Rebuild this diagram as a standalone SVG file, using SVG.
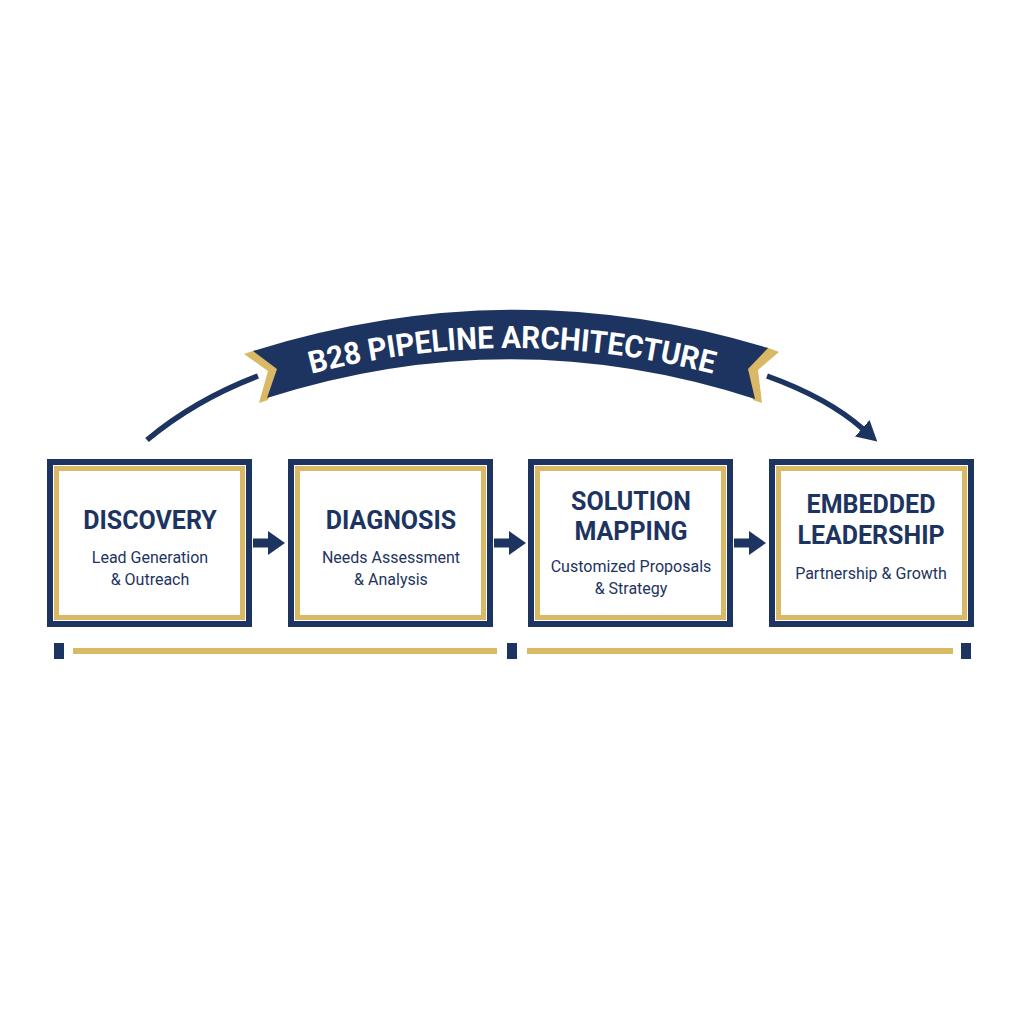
<svg xmlns="http://www.w3.org/2000/svg" width="1024" height="1024" viewBox="0 0 1024 1024">
<style>
.navy{fill:none;stroke:#1d3461;stroke-width:6}
.gold{fill:none;stroke:#d9b866;stroke-width:5}
.t{font-family:Roboto,"Liberation Sans",sans-serif;font-weight:700;font-size:25px;fill:#1d3461;text-anchor:middle}
.s{font-family:Roboto,"Liberation Sans",sans-serif;font-size:16px;fill:#1d3461;text-anchor:middle}
.conn{stroke:#1d3461;stroke-width:9;fill:none}
.arc{stroke:#1d3461;stroke-width:5.5;fill:none}
</style>
<defs>
<marker id="ah" markerUnits="userSpaceOnUse" markerWidth="18" markerHeight="24" refX="0" refY="12" orient="auto">
<path d="M0,0 L17,12 L0,24 Z" fill="#1d3461"/>
</marker>
<marker id="ah2" markerUnits="userSpaceOnUse" markerWidth="22" markerHeight="24" refX="1" refY="12" orient="auto">
<path d="M0,1 L20,12 L0,23 Z" fill="#1d3461"/>
</marker>
<path id="tp" d="M262,388 Q512,308 762,388"/>
</defs>
<rect width="1024" height="1024" fill="#ffffff"/>

<g id="banner">
<polygon points="256,350 244,354 268,371 259,403 268,400 279,369" fill="#d9b866"/>
<polygon points="766,347 779,352 758,370 762,403 753,400 746,369" fill="#d9b866"/>
<path d="M253,351 Q512,270 768,348 L748,369 L755,399 Q512,320 267,398 L277,369 Z" fill="#1d3461"/>
<text font-family="Roboto,'Liberation Sans',sans-serif" font-weight="700" font-size="31" fill="#ffffff" text-anchor="middle"><textPath href="#tp" startOffset="50%" textLength="406" lengthAdjust="spacingAndGlyphs">B28 PIPELINE ARCHITECTURE</textPath></text>
</g>

<g id="connectors">
<path class="arc" d="M147,440 Q195,400 258,376"/>
<path class="arc" d="M767,376 Q828,398 863,429" marker-end="url(#ah2)"/>
<line class="conn" x1="253" y1="543" x2="268" y2="543" marker-end="url(#ah)"/>
<line class="conn" x1="494" y1="543" x2="509" y2="543" marker-end="url(#ah)"/>
<line class="conn" x1="734" y1="543" x2="749" y2="543" marker-end="url(#ah)"/>
</g>

<g id="discovery">
<rect class="navy" x="50" y="462" width="199" height="162"/>
<rect class="gold" x="56.5" y="468.5" width="186" height="149"/>
<text class="t" x="150" y="529">DISCOVERY</text>
<text class="s" x="150" y="563">Lead Generation</text>
<text class="s" x="150" y="585">&amp; Outreach</text>
</g>

<g id="diagnosis">
<rect class="navy" x="291" y="462" width="199" height="162"/>
<rect class="gold" x="297.5" y="468.5" width="186" height="149"/>
<text class="t" x="391" y="529">DIAGNOSIS</text>
<text class="s" x="391" y="563">Needs Assessment</text>
<text class="s" x="391" y="585">&amp; Analysis</text>
</g>

<g id="solution">
<rect class="navy" x="531" y="462" width="199" height="162"/>
<rect class="gold" x="537.5" y="468.5" width="186" height="149"/>
<text class="t" x="631" y="510">SOLUTION</text>
<text class="t" x="631" y="540">MAPPING</text>
<text class="s" x="631" y="572">Customized Proposals</text>
<text class="s" x="631" y="594">&amp; Strategy</text>
</g>

<g id="embedded">
<rect class="navy" x="772" y="462" width="199" height="162"/>
<rect class="gold" x="778.5" y="468.5" width="186" height="149"/>
<text class="t" x="871" y="513">EMBEDDED</text>
<text class="t" x="871" y="544">LEADERSHIP</text>
<text class="s" x="871" y="579">Partnership &amp; Growth</text>
</g>

<g id="timeline">
<rect x="54" y="643" width="10" height="16" fill="#1d3461"/>
<rect x="73" y="648" width="424" height="6" fill="#d9b866"/>
<rect x="507" y="643" width="10" height="16" fill="#1d3461"/>
<rect x="527" y="648" width="426" height="6" fill="#d9b866"/>
<rect x="961" y="643" width="10" height="16" fill="#1d3461"/>
</g>
</svg>
